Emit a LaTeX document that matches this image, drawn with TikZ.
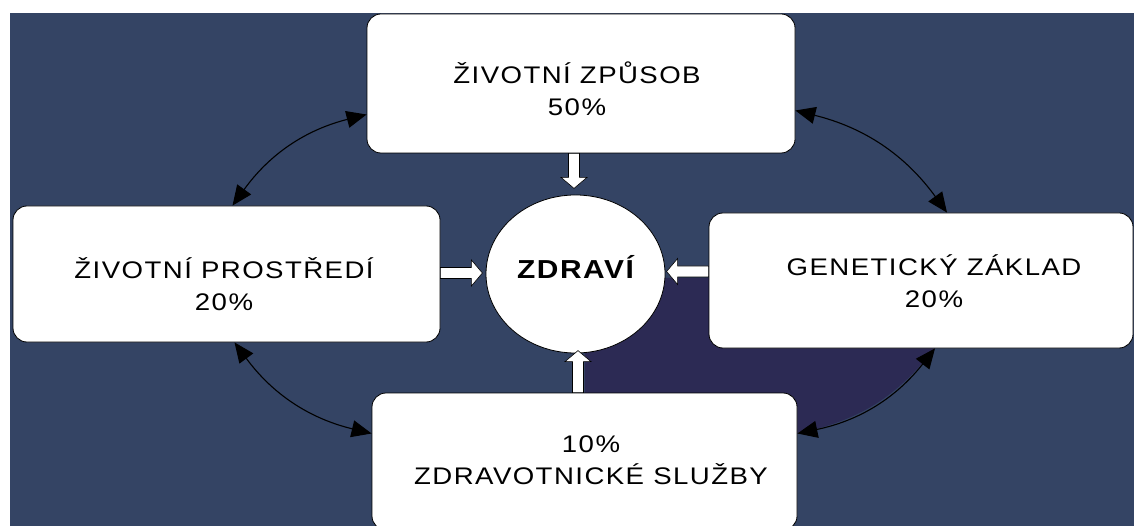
\documentclass[tikz,border=0pt]{standalone}
\usepackage{fontspec}
\setmainfont{Liberation Sans}
\newfontfamily\panelfont[FakeStretch=1.15,LetterSpace=6]{Liberation Sans}
\usetikzlibrary{arrows.meta,calc,shapes.geometric}
\definecolor{slate}{RGB}{52,68,100}
\definecolor{deepslate}{RGB}{44,42,84}

\begin{document}
\begin{tikzpicture}[x=1pt,y=-1pt,
  panel/.style={draw=black,fill=white,line width=0.8pt,rounded corners=14pt,inner sep=0pt},
  caption/.style={font=\panelfont\fontsize{24}{32}\selectfont,align=center,inner sep=0pt},
  link/.style={line width=1.1pt,{Triangle[length=20pt,width=17pt]}-{Triangle[length=20pt,width=17pt]}},
  pics/push/.style={code={\draw[fill=white,draw=black,line width=0.6pt]
      (0,-5.5) -- (#1-11,-5.5) -- (#1-11,-13) -- (#1,0) -- (#1-11,13) -- (#1-11,5.5) -- (0,5.5) -- cycle;}}]
  \useasboundingbox (0,0) rectangle (1134,526);
  \fill[white] (0,0) rectangle (1134,526);
  \fill[slate] (10,13) rectangle (1134,526);
  % darker wedge under the lower right link
  \fill[deepslate] (585,278) -| (935,348) to[bend left=20] (797,433.5) -- (585,433.5) -- cycle;

  % the four factors
  \node[panel,minimum width=428pt,minimum height=139pt] (lifestyle) at (581,83.5) {};
  \node[panel,minimum width=427pt,minimum height=136pt] (environment) at (226.5,274) {};
  \node[panel,minimum width=424pt,minimum height=135pt] (genetics) at (921,280.5) {};
  \node[panel,minimum width=425pt,minimum height=137pt] (services) at (584.5,461.5) {};
  \node[caption] (lifestyle-text) at ($(lifestyle)+(-4,5)$) {ŽIVOTNÍ ZPŮSOB\\50\%};
  \node[caption] (environment-text) at ($(environment)+(-2.5,10)$) {ŽIVOTNÍ PROSTŘEDÍ\\20\%};
  \node[caption] (genetics-text) at ($(genetics)+(13,1)$) {GENETICKÝ ZÁKLAD\\20\%};
  \node[caption] (services-text) at ($(services)+(6.5,-1)$) {10\%\\ZDRAVOTNICKÉ SLUŽBY};

  % health in the middle
  \node[draw=black,fill=white,ellipse,line width=0.8pt,inner sep=0pt,
        minimum width=179pt,minimum height=158pt] (health) at (575.5,274) {};
  \node[font={\panelfont\bfseries\fontsize{26}{32}\selectfont},inner sep=0pt]
        (health-text) at ($(health)+(0,-7)$) {ZDRAVÍ};

  % block arrows into health
  \pic[rotate=-90] at ($(lifestyle.south)+(-7,0)$) {push=35};
  \pic at ($(environment.east)+(0,-1)$) {push=42};
  \pic[rotate=180] at ($(genetics.west)+(0,-9)$) {push=42};
  \pic[rotate=90] at ($(services.north)+(-6.5,0)$) {push=42};

  % curved links between neighbouring factors
  \coordinate (ls-w) at ($(lifestyle.west)+(0,31)$);
  \coordinate (ls-e) at ($(lifestyle.east)+(0,27)$);
  \coordinate (env-n) at ($(environment.north)+(6,0)$);
  \coordinate (env-s) at ($(environment.south)+(8,0)$);
  \coordinate (gen-n) at ($(genetics.north)+(26,0)$);
  \coordinate (gen-s) at ($(genetics.south)+(14,0)$);
  \coordinate (srv-w) at ($(services.west)+(0,-28)$);
  \coordinate (srv-e) at ($(services.east)+(0,-28)$);
  \foreach \a/\b/\s in {ls-w/env-n/right, ls-e/gen-n/left, env-s/srv-w/right, srv-e/gen-s/right}
    \draw[link] (\a) to[bend \s=20] (\b);
\end{tikzpicture}
\end{document}
